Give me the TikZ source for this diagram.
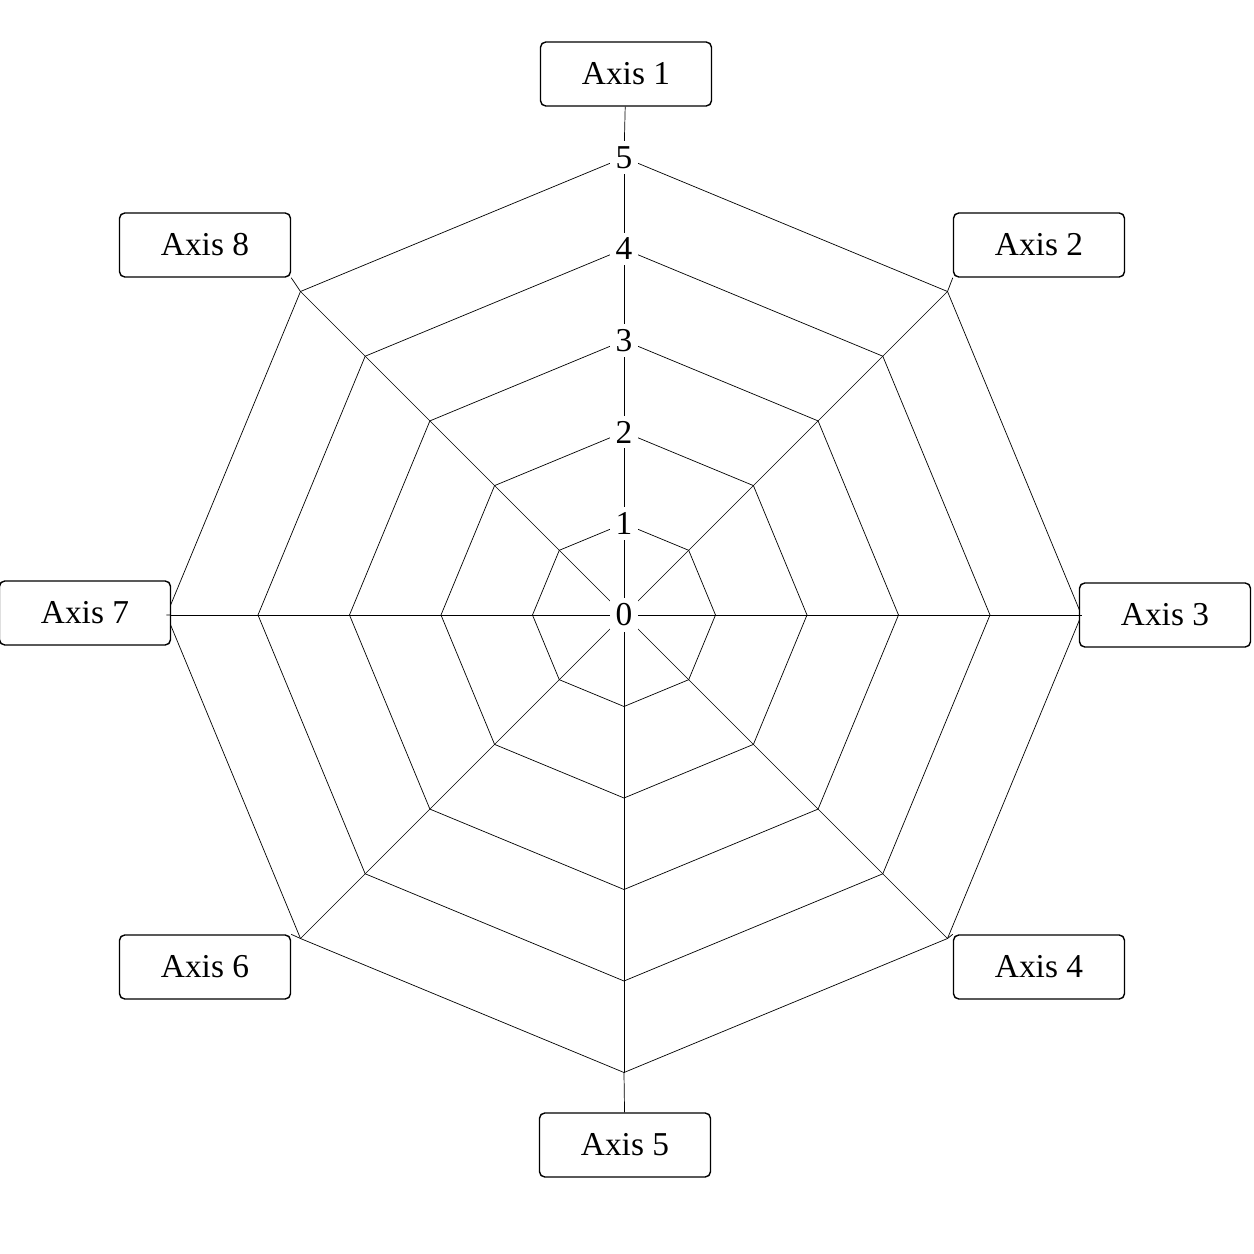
\documentclass[tikz,border=0pt]{standalone}
\usepackage{fontspec}
\setmainfont{Liberation Serif}
\usepackage{tikz}
\tikzset{
  axislabel/.style={draw, thick, rounded corners=3pt, fill=white, minimum width=3.42cm,
    minimum height=1.28cm, font=\fontsize{19}{22}\selectfont},
  ticklabel/.style={fill=white, inner sep=3pt, font=\fontsize{19}{22}\selectfont}
}
\begin{document}
\begin{tikzpicture}
  \useasboundingbox (-12.48,-12.78) rectangle (12.6,12.3);
  \def\unitr{1.83}
  % spokes
  \foreach \i in {1,...,8}{
    \coordinate (v\i) at ({90-(\i-1)*45}:5*\unitr);
    \draw[thin] (0,0) -- (v\i);
  }
  % rings
  \foreach \k in {1,...,5}{
    \draw[thin] (90:\k*\unitr) \foreach \a in {45,0,-45,-90,-135,180,135}{ -- (\a:\k*\unitr)} -- cycle;
  }
  % axis labels
  \node[axislabel] (ax1) at (0.04,10.82) {Axis 1};
  \node[axislabel] (ax2) at (8.30,7.40) {Axis 2};
  \node[axislabel] (ax3) at (10.82,0) {Axis 3};
  \node[axislabel] (ax4) at (8.30,-7.04) {Axis 4};
  \node[axislabel] (ax5) at (0.02,-10.60) {Axis 5};
  \node[axislabel] (ax6) at (-8.38,-7.04) {Axis 6};
  \node[axislabel] (ax7) at (-10.78,0.04) {Axis 7};
  \node[axislabel] (ax8) at (-8.38,7.40) {Axis 8};
  \draw[thin] (v1) -- (ax1);
  \draw[thin] (v2) -- (ax2.south west);
  \draw[thin] (v3) -- (ax3);
  \draw[thin] (v4) -- (ax4.north west);
  \draw[thin] (v5) -- (ax5);
  \draw[thin] (v6) -- (ax6.north east);
  \draw[thin] (v7) -- (ax7);
  \draw[thin] (v8) -- (ax8.south east);
  % scale
  \foreach \k in {0,...,5}{
    \node[ticklabel] (t\k) at (90:\k*\unitr) {\k};
  }
\end{tikzpicture}
\end{document}
